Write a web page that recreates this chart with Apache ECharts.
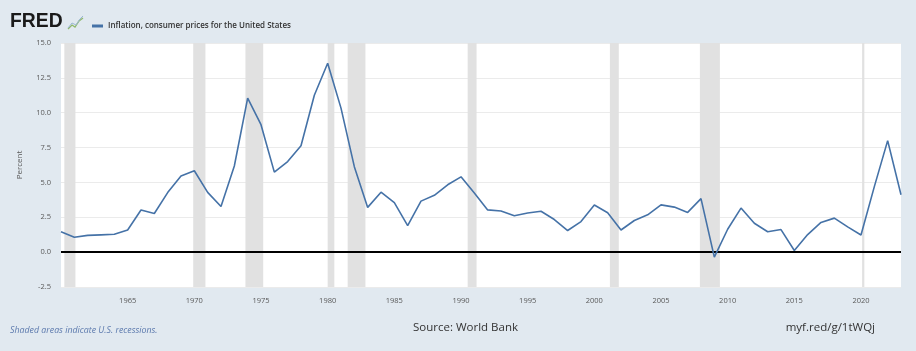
<!DOCTYPE html>
<html>
<head>
<meta charset="utf-8">
<script src="https://cdn.jsdelivr.net/npm/echarts@6/dist/echarts.min.js"></script>
<style>
html,body{margin:0;padding:0;background:#e1e9f0;}
#chart{width:916px;height:351px;}
</style>
</head>
<body>
<div id="chart"></div>
<script>
const years = [1960,1961,1962,1963,1964,1965,1966,1967,1968,1969,1970,1971,1972,1973,1974,1975,1976,1977,1978,1979,1980,1981,1982,1983,1984,1985,1986,1987,1988,1989,1990,1991,1992,1993,1994,1995,1996,1997,1998,1999,2000,2001,2002,2003,2004,2005,2006,2007,2008,2009,2010,2011,2012,2013,2014,2015,2016,2017,2018,2019,2020,2021,2022,2023];
const inflation = [1.46,1.07,1.20,1.24,1.28,1.59,3.02,2.77,4.27,5.46,5.84,4.29,3.27,6.18,11.05,9.14,5.74,6.50,7.63,11.25,13.55,10.33,6.13,3.21,4.30,3.55,1.90,3.66,4.08,4.83,5.40,4.24,3.03,2.95,2.61,2.81,2.93,2.34,1.55,2.19,3.38,2.83,1.59,2.27,2.68,3.39,3.23,2.85,3.84,-0.36,1.64,3.16,2.07,1.46,1.62,0.12,1.26,2.13,2.44,1.81,1.23,4.70,8.00,4.12];
const recessionStarts = ['1960-04','1969-12','1973-11','1980-01','1981-07','1990-07','2001-03','2007-12','2020-02'];
const recessionEnds   = ['1961-02','1970-11','1975-03','1980-07','1982-11','1991-03','2001-11','2009-06','2020-04'];
const yTicks = [-2.5,0,2.5,5,7.5,10,12.5,15];
const xTickYears = [1965,1970,1975,1980,1985,1990,1995,2000,2005,2010,2015,2020];

function frac(s){const p=s.split('-');return +p[0]+(+p[1]-1)/12;}
const recAreas = recessionStarts.map((s,i)=>[{xAxis:frac(s)},{xAxis:frac(recessionEnds[i])}]);
const seriesData = years.map((y,i)=>[y,inflation[i]]);

const chart = echarts.init(document.getElementById('chart'));
const font = '"Open Sans", "DejaVu Sans", sans-serif';
chart.setOption({
  backgroundColor:'#e1e9f0',
  animation:false,
  textStyle:{fontFamily:font},
  grid:{left:61,right:15,top:43,bottom:64,show:true,backgroundColor:'#ffffff',borderWidth:0},
  legend:{
    left:87,top:17,itemWidth:11,itemHeight:3,icon:'rect',itemGap:4,
    textStyle:{fontSize:8,fontWeight:600,color:'#333',fontFamily:font},
    data:['Inflation, consumer prices for the United States']
  },
  xAxis:{
    type:'value',min:1960,max:2023,interval:5,
    axisLine:{show:false},axisTick:{show:false},splitLine:{show:false},
    axisLabel:{
      color:'#595959',fontSize:7.5,margin:10,showMaxLabel:false,
      formatter:v=>xTickYears.indexOf(v)>=0?String(v):''
    }
  },
  yAxis:{
    type:'value',min:yTicks[0],max:yTicks[yTicks.length-1],interval:2.5,
    name:'Percent',nameLocation:'middle',nameGap:37,
    nameTextStyle:{color:'#595959',fontSize:8},
    axisLine:{show:false},axisTick:{show:false},
    splitLine:{lineStyle:{color:'#ebebeb',width:1}},
    axisLabel:{color:'#595959',fontSize:7.5,margin:10,formatter:v=>v.toFixed(1)}
  },
  series:[
    {
      name:'Inflation, consumer prices for the United States',
      type:'line',data:seriesData,showSymbol:false,symbol:'none',
      lineStyle:{color:'#4572a7',width:1.6},itemStyle:{color:'#4572a7'},
      z:5,
      markArea:{silent:true,itemStyle:{color:'#e1e1e1'},data:recAreas},
      markLine:{silent:true,symbol:'none',label:{show:false},
        lineStyle:{color:'#000',width:1.8,type:'solid'},data:[{yAxis:0}]}
    }
  ],
  graphic:[
    {type:'text',x:10,y:11,scaleX:0.92,style:{text:'FRED',font:'900 21px "Liberation Sans", Arial, sans-serif',fill:'#1a1a1a'}},
    {type:'polyline',shape:{points:[[68,29],[72,25],[75,27],[79,21],[83,18]]},style:{stroke:'#8fb86b',lineWidth:1.3,fill:null}},
    {type:'polyline',shape:{points:[[68,28],[72,23],[76,25],[80,19],[83,16]]},style:{stroke:'#9ab7d3',lineWidth:1,fill:null}},
    {type:'text',left:10,top:326,style:{text:'Shaded areas indicate U.S. recessions.',font:'italic 8.8px '+font,fill:'#5b79ad'}},
    {type:'text',x:413,y:328,style:{text:'Source: World Bank',font:'11.5px '+font,fill:'#333',textVerticalAlign:'middle',textAlign:'left'}},
    {type:'text',x:875,y:328,style:{text:'myf.red/g/1tWQj',font:'11.5px '+font,fill:'#333',textVerticalAlign:'middle',textAlign:'right'}}
  ]
});
</script>
</body>
</html>
